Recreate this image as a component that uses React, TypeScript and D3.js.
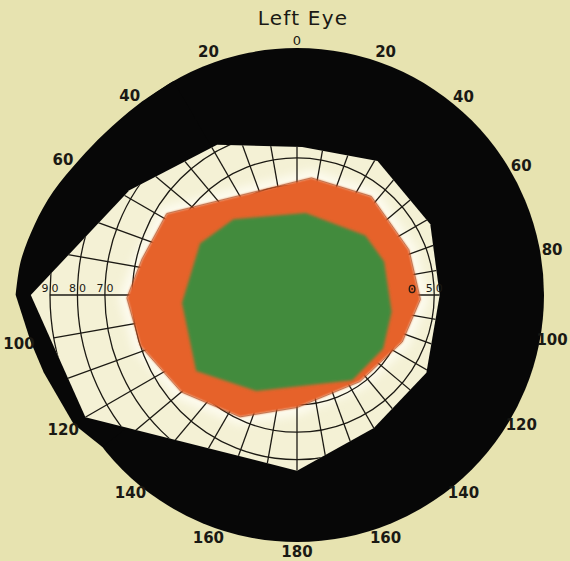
import React from "react";
import * as d3 from "d3";

const WIDTH = 570;
const HEIGHT = 561;
const TITLE = "Left Eye";

// rim labels (degrees measured from the top, on each side)
const rimLabelsLeft = [20, 40, 60, 100, 120, 140, 160];
const rimLabelsRight = [20, 40, 60, 80, 100, 120, 140, 160];
const rimLabelsAxis = [0, 180];

// meridian in degrees (0 = right, counter-clockwise), eccentricity in degrees
const fieldMeridians = [0, 28, 59, 88, 118, 148, 180, 210, 270, 300, 329];
const fieldExtent = [52, 55, 57, 54, 62, 72, 97, 89, 64, 56, 55];

const orangeMeridians = [358, 22, 53, 83, 148, 167, 181, 198, 220, 245, 270, 306, 336];
const orangeExtent = [45, 44, 45, 43, 56, 58, 62, 60, 55, 49, 41, 39, 42];

const greenMeridians = [350, 21, 41, 84, 130, 152, 184, 217, 247, 303, 328];
const greenExtent = [35, 34, 33, 30, 36, 40, 42, 46, 38, 37, 37];

// black mask bulge on the temporal side (beyond the 90 deg rim)
const maskUpperMeridians = [120, 130, 140, 148, 157, 165, 173, 180];
const maskUpperExtent = [90, 90.4, 91.6, 93.4, 96.5, 99, 101.4, 102.5];
const maskLowerMeridians = [180, 190, 197, 210, 218];
const maskLowerExtent = [102.5, 98.5, 96.5, 94, 90];

const gridRings = [10, 20, 30, 40, 50, 60, 70, 80, 90];
const gridMeridians = d3.range(0, 360, 10);
const scaleTicksLeft = [90, 80, 70];
const scaleTicksRight = [50];
const blindSpot = { meridian: 3, ecc: 42 };

export default function App() {
  const cx = 297;
  const cy = 295;
  const r = d3.scaleLinear().domain([0, 90]).range([0, 247]);
  const rad = (m: number) => (m * Math.PI) / 180;
  const pt = (m: number, e: number): [number, number] => [
    cx + r(e) * Math.cos(rad(m)),
    cy - r(e) * Math.sin(rad(m)),
  ];
  const line = d3.line();
  const poly = (ms: number[], es: number[]) =>
    line(ms.map((m, i) => pt(m, es[i]))) + "Z";

  const fieldPath = poly(fieldMeridians, fieldExtent);
  const orangePath = poly(orangeMeridians, orangeExtent);
  const greenPath = poly(greenMeridians, greenExtent);
  const smooth = d3.line().curve(d3.curveCatmullRom);
  const upperPts = maskUpperMeridians.map((m, i) => pt(m, maskUpperExtent[i]));
  const maskUpperPath = smooth(upperPts) + `L${cx},${cy}Z`;
  const maskLowerPath =
    line([[cx, cy] as [number, number], ...maskLowerMeridians.map((m, i) => pt(m, maskLowerExtent[i]))]) + "Z";

  const allMaskM = [...maskUpperMeridians, ...maskLowerMeridians.slice(1)];
  const allMaskE = [...maskUpperExtent, ...maskLowerExtent.slice(1)];
  const maskScale = d3.scaleLinear().domain(allMaskM).range(allMaskE).clamp(true);
  const labelPos = (mathAngle: number, off: number): [number, number] => {
    const a = ((mathAngle % 360) + 360) % 360;
    const R = r(maskScale(a)) + off;
    return [cx + R * Math.cos(rad(a)), cy - R * Math.sin(rad(a))];
  };

  const rimLabels: { v: number; a: number; key: string; off: number }[] = [
    ...rimLabelsLeft.map((v) => ({ v, a: 90 + v, key: "l" + v, off: 12 })),
    ...rimLabelsRight.map((v) => ({ v, a: 90 - v, key: "r" + v, off: 12 })),
    ...rimLabelsAxis.map((v) => ({ v, a: 90 - v, key: "c" + v, off: v === 0 ? 8 : 10 })),
  ];

  const bs = pt(blindSpot.meridian, blindSpot.ecc);

  return (
    <svg
      width={WIDTH}
      height={HEIGHT}
      style={{ position: "absolute", left: 0, top: 0, display: "block" }}
    >
      <defs>
        <clipPath id="fieldClip">
          <path d={fieldPath} />
        </clipPath>
        <filter id="soft" x="-20%" y="-20%" width="140%" height="140%">
          <feGaussianBlur stdDeviation="1.1" />
        </filter>
        <filter id="softer" x="-20%" y="-20%" width="140%" height="140%">
          <feGaussianBlur stdDeviation="1.8" />
        </filter>
        <filter id="halo" x="-20%" y="-20%" width="140%" height="140%">
          <feGaussianBlur stdDeviation="4" />
        </filter>
      </defs>
      <rect x={0} y={0} width={WIDTH} height={HEIGHT} fill="#e7e3b0" />

      {/* black surround */}
      <circle cx={cx} cy={cy} r={r(90)} fill="#070707" />
      <path d={maskUpperPath} fill="#070707" />
      <path d={maskLowerPath} fill="#070707" />

      {/* visual field */}
      <path d={fieldPath} fill="#f4f1d5" />
      <g clipPath="url(#fieldClip)">
        <path d={orangePath} fill="none" stroke="#fdfbee" strokeWidth={16} filter="url(#halo)" />
        {gridRings.map((g) => (
          <circle key={"ring" + g} cx={cx} cy={cy} r={r(g)} fill="none" stroke="#1c1a14" strokeWidth={1.3} />
        ))}
        {gridMeridians.map((m) => {
          const [x2, y2] = pt(m, 90);
          return <line key={"mer" + m} x1={cx} y1={cy} x2={x2} y2={y2} stroke="#1c1a14" strokeWidth={1.3} />;
        })}
      </g>

      {/* isopters */}
      <path d={orangePath} fill="#e6622a" filter="url(#soft)" />
      <path d={orangePath} fill="none" stroke="#8d3915" strokeWidth={0.8} strokeOpacity={0.6} />
      <path d={greenPath} fill="#428b3d" filter="url(#softer)" />

      {/* scale numbers on horizontal meridian */}
      {[...scaleTicksLeft.map((v) => ({ v, m: 180 })), ...scaleTicksRight.map((v) => ({ v, m: 0 }))].map(({ v, m }) => {
        const [x] = pt(m, v);
        const s = String(v);
        return (
          <g key={"t" + m + v} fontFamily="DejaVu Sans, sans-serif" fontSize={11} fill="#1c1a14">
            <text x={x - 1.5} y={cy - 3} textAnchor="end">{s[0]}</text>
            <text x={x + 1.5} y={cy - 3} textAnchor="start">{s.slice(1)}</text>
          </g>
        );
      })}
      <ellipse cx={bs[0]} cy={bs[1]} rx={2.8} ry={3.6} fill="none" stroke="#2a1a10" strokeWidth={1.4} />
      <circle cx={bs[0]} cy={bs[1]} r={0.9} fill="#2a1a10" />

      {/* rim labels */}
      {rimLabels.map(({ v, a, key, off }) => {
        const [x, y] = labelPos(a, off);
        return (
          <text
            key={key}
            x={x}
            y={y}
            textAnchor="middle"
            dominantBaseline="central"
            fontFamily="DejaVu Sans, sans-serif"
            fontWeight={v === 0 ? "normal" : "bold"}
            fontSize={v === 0 ? 13 : 15}
            fill="#1a1914"
          >
            {v}
          </text>
        );
      })}

      <text
        x={303}
        y={25}
        textAnchor="middle"
        fontFamily="DejaVu Sans, sans-serif"
        fontSize={20}
        letterSpacing={1.2}
        fill="#1a1914"
      >
        {TITLE}
      </text>
    </svg>
  );
}
